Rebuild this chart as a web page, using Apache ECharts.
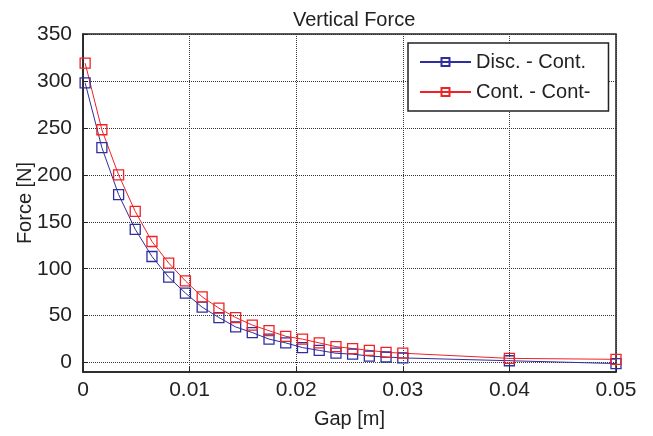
<!DOCTYPE html>
<html>
<head>
<meta charset="utf-8">
<script src="https://cdn.jsdelivr.net/npm/echarts@6/dist/echarts.min.js"></script>
<style>
  html, body { margin: 0; padding: 0; background: #fff; }
  #chart { width: 653px; height: 436px; }
</style>
</head>
<body>
<div id="chart"></div>
<script>
// Gap values [m]
const gaps = [0.0002, 0.00177, 0.00334, 0.0049, 0.00647, 0.00804, 0.00961, 0.01118,
  0.01275, 0.01432, 0.01588, 0.01745, 0.01902, 0.02059, 0.02216, 0.02373,
  0.02529, 0.02686, 0.02843, 0.03, 0.04, 0.05];

// Vertical force [N], discrete magnet vs continuous
const discCont = [298, 229, 179, 142, 113, 91, 74, 59, 48, 38, 32, 25,
  21, 16, 13, 10, 9, 7, 6, 5, 2, -1];

// Vertical force [N], continuous vs continuous
const contCont = [319, 248, 200, 161, 129, 106, 87, 70, 58, 48, 40, 34,
  28, 25, 21, 17, 15, 13, 11, 10, 4.5, 3.5];

const yTicks = [0, 50, 100, 150, 200, 250, 300, 350];
const seriesNames = ['Disc. - Cont.', 'Cont. - Cont-'];

const BLUE = '#2e2e9e';
const RED = '#ee2326';
const FONT = '"Liberation Sans", Arial, sans-serif';
const TXT = '#222';

function pairs(xs, ys) { return xs.map((x, i) => [x, ys[i]]); }

function lineSeries(name, ys, color) {
  return {
    name: name,
    type: 'line',
    data: pairs(gaps, ys),
    symbol: 'rect',
    symbolSize: 10,
    showAllSymbol: true,
    clip: false,
    lineStyle: { color: color, width: 1 },
    itemStyle: { color: 'rgba(255,255,255,0)', borderColor: color, borderWidth: 1.3 },
    emphasis: { disabled: true },
    animation: false
  };
}

const chart = echarts.init(document.getElementById('chart'), null, { renderer: 'canvas' });
chart.setOption({
  backgroundColor: '#fff',
  animation: false,
  title: {
    text: 'Vertical Force',
    left: 288,
    top: 5,
    textStyle: { fontFamily: FONT, fontSize: 20, fontWeight: 'normal', color: TXT }
  },
  grid: {
    left: 83, right: 37, top: 34, bottom: 64,
    show: true, borderColor: '#222', borderWidth: 1.5, backgroundColor: '#fff'
  },
  legend: {
    orient: 'vertical',
    left: 408, top: 43,
    padding: [9, 18, 9, 11],
    itemGap: 10,
    itemWidth: 51,
    itemHeight: 10,
    backgroundColor: '#fff',
    borderColor: '#222',
    borderWidth: 1.5,
    borderRadius: 0,
    textStyle: { fontFamily: FONT, fontSize: 20, color: TXT, lineHeight: 19 },
    data: seriesNames
  },
  xAxis: {
    type: 'value',
    min: 0, max: 0.05, interval: 0.01,
    name: 'Gap [m]',
    nameLocation: 'middle',
    nameGap: 37,
    nameMoveOverlap: false,
    nameTextStyle: { fontFamily: FONT, fontSize: 20, color: TXT },
    axisLine: { show: true, onZero: false, lineStyle: { color: '#222', width: 1.5 } },
    axisTick: { show: true, inside: true, length: 5, lineStyle: { color: '#222' } },
    axisLabel: { fontFamily: FONT, fontSize: 21, color: TXT, margin: 8 },
    splitLine: { show: true, lineStyle: { color: '#333', width: 1, type: [1, 1] } }
  },
  yAxis: {
    type: 'value',
    min: -10, max: 350,
    name: 'Force [N]',
    nameLocation: 'middle',
    nameGap: 48,
    nameMoveOverlap: false,
    nameTextStyle: { fontFamily: FONT, fontSize: 20, color: TXT },
    axisLine: { show: true, onZero: false, lineStyle: { color: '#222', width: 1.5 } },
    axisTick: { show: true, inside: true, length: 5, customValues: yTicks, lineStyle: { color: '#222' } },
    axisLabel: { fontFamily: FONT, fontSize: 21, color: TXT, margin: 11, customValues: yTicks },
    splitLine: { show: true, lineStyle: { color: '#333', width: 1, type: [1, 1] } }
  },
  series: [
    lineSeries(seriesNames[0], discCont, BLUE),
    lineSeries(seriesNames[1], contCont, RED)
  ]
});
</script>
</body>
</html>
